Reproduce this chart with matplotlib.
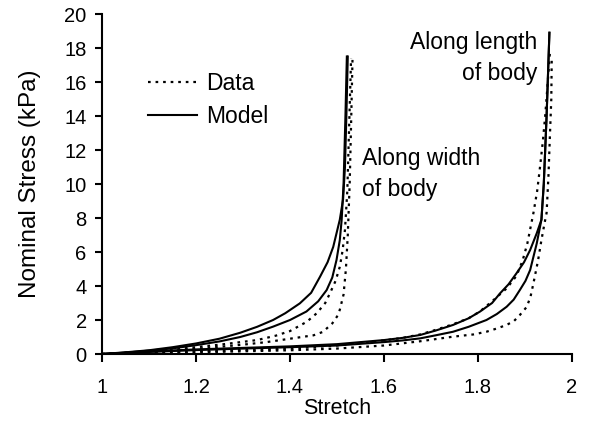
import matplotlib
matplotlib.use("Agg")
import matplotlib.pyplot as plt

plt.rcParams['font.family'] = ['Liberation Sans', 'DejaVu Sans']
plt.rcParams['font.size'] = 16

# along width of body
w_model1_x = [1.0, 1.05, 1.1, 1.15, 1.2, 1.25, 1.294, 1.33, 1.364, 1.39, 1.421, 1.445, 1.464,
              1.48, 1.492, 1.506, 1.513, 1.517, 1.520, 1.523]
w_model1_y = [0.0, 0.1, 0.22, 0.4, 0.62, 0.9, 1.25, 1.6, 2.0, 2.4, 2.98, 3.6, 4.55,
              5.4, 6.3, 7.9, 9.1, 11.0, 14.0, 17.5]
w_model2_x = [1.0, 1.05, 1.1, 1.15, 1.2, 1.25, 1.294, 1.33, 1.364, 1.40, 1.435, 1.46, 1.478,
              1.49, 1.499, 1.506, 1.510, 1.514, 1.518, 1.521]
w_model2_y = [0.0, 0.08, 0.2, 0.33, 0.52, 0.74, 1.0, 1.28, 1.61, 2.0, 2.5, 3.1, 3.76,
              4.5, 5.53, 6.7, 7.9, 10.0, 14.0, 17.5]
w_data1_x = [1.0, 1.1, 1.2, 1.26, 1.33, 1.37, 1.40, 1.436, 1.457, 1.475, 1.485, 1.497, 1.506,
             1.512, 1.517, 1.522, 1.526, 1.530]
w_data1_y = [0.0, 0.15, 0.4, 0.58, 0.82, 1.08, 1.35, 1.9, 2.4, 3.0, 3.57, 4.3, 5.13,
             6.1, 7.3, 9.6, 13.5, 17.4]
w_data2_x = [1.0, 1.1, 1.2, 1.3, 1.35, 1.4, 1.45, 1.47, 1.49, 1.50, 1.506, 1.514, 1.519,
             1.523, 1.527, 1.530, 1.533]
w_data2_y = [0.0, 0.12, 0.3, 0.55, 0.7, 0.9, 1.1, 1.3, 1.8, 2.2, 2.6, 3.5, 5.0,
             7.0, 10.0, 13.5, 17.3]

# along length of body
l_model1_x = [1.0, 1.1, 1.2, 1.3, 1.4, 1.5, 1.6, 1.64, 1.677, 1.71, 1.747, 1.78, 1.804, 1.83,
              1.847, 1.865, 1.882, 1.898, 1.911, 1.925, 1.935, 1.940, 1.946, 1.952]
l_model1_y = [0.0, 0.15, 0.27, 0.36, 0.45, 0.58, 0.82, 0.95, 1.12, 1.38, 1.71, 2.1, 2.49, 3.0,
              3.57, 4.1, 4.75, 5.4, 6.12, 7.1, 7.9, 10.0, 14.0, 18.9]
l_model2_x = [1.0, 1.1, 1.2, 1.3, 1.4, 1.5, 1.6, 1.64, 1.677, 1.71, 1.747, 1.78, 1.818, 1.84,
              1.861, 1.876, 1.889, 1.901, 1.911, 1.925, 1.935, 1.940, 1.946, 1.952]
l_model2_y = [0.0, 0.12, 0.23, 0.32, 0.4, 0.5, 0.7, 0.8, 0.92, 1.1, 1.31, 1.6, 2.0, 2.35,
              2.78, 3.2, 3.76, 4.3, 4.94, 6.5, 7.9, 10.0, 14.0, 18.9]
l_data1_x = [1.0, 1.2, 1.4, 1.5, 1.6, 1.64, 1.677, 1.71, 1.747, 1.78, 1.804, 1.83, 1.861,
             1.882, 1.895, 1.905, 1.918, 1.926, 1.932, 1.938, 1.943, 1.948, 1.953]
l_data1_y = [0.0, 0.15, 0.32, 0.5, 0.8, 0.95, 1.15, 1.42, 1.75, 2.1, 2.5, 3.1, 3.86,
             4.6, 5.5, 6.5, 8.3, 9.6, 11.0, 12.5, 14.0, 15.8, 17.7]
l_data2_x = [1.0, 1.2, 1.4, 1.5, 1.6, 1.677, 1.747, 1.79, 1.818, 1.84, 1.861, 1.877, 1.889,
             1.904, 1.912, 1.918, 1.928, 1.935, 1.941, 1.946, 1.950, 1.953, 1.956, 1.957]
l_data2_y = [0.0, 0.1, 0.22, 0.32, 0.5, 0.75, 1.02, 1.15, 1.31, 1.5, 1.71, 1.95, 2.29,
             2.78, 3.4, 4.16, 5.53, 6.7, 7.6, 8.3, 10.5, 12.8, 15.0, 17.5]

dot = (0, (1.2, 2.2))

fig = plt.figure(figsize=(5.95, 4.48), dpi=100)
ax = fig.add_axes([0.1714, 0.2098, 0.7899, 0.7589])

ax.plot(w_data1_x, w_data1_y, color='black', lw=1.6, ls=dot, label='Data')
ax.plot(w_model1_x, w_model1_y, color='black', lw=1.5, label='Model')
ax.plot(w_model2_x, w_model2_y, color='black', lw=1.5)
ax.plot(w_data2_x, w_data2_y, color='black', lw=1.6, ls=dot)
ax.plot(l_model1_x, l_model1_y, color='black', lw=1.5)
ax.plot(l_model2_x, l_model2_y, color='black', lw=1.5)
ax.plot(l_data1_x, l_data1_y, color='black', lw=1.6, ls=dot)
ax.plot(l_data2_x, l_data2_y, color='black', lw=1.6, ls=dot)

ax.set_xlim(1, 2)
ax.set_ylim(0, 20)
ax.set_xticks([1, 1.2, 1.4, 1.6, 1.8, 2])
ax.set_xticklabels(['1', '1.2', '1.4', '1.6', '1.8', '2'])
ax.set_yticks(range(0, 21, 2))

for s in ['top', 'right']:
    ax.spines[s].set_visible(False)
for s in ['left', 'bottom']:
    ax.spines[s].set_linewidth(1.5)
ax.tick_params(axis='y', direction='out', length=5, width=1.5, pad=6, labelsize=14.5)
ax.tick_params(axis='x', direction='out', length=6, width=1.5, pad=11, labelsize=14.5)

ax.set_xlabel('Stretch', fontsize=15.5, labelpad=1)
ax.set_ylabel('Nominal Stress (kPa)', fontsize=17.5, labelpad=17)

ax.legend(loc='upper left', bbox_to_anchor=(0.055, 0.89), frameon=False, fontsize=16.5,
          handlelength=2.1, handletextpad=0.4, labelspacing=0.45)

ax.text(1.553, 10.6, 'Along width\nof body', ha='left', va='center', fontsize=16.5,
        linespacing=1.42)
ax.text(1.926, 17.4, 'Along length\nof body', ha='right', va='center', fontsize=16.5,
        linespacing=1.42)

fig.savefig('out.png', dpi=100)
